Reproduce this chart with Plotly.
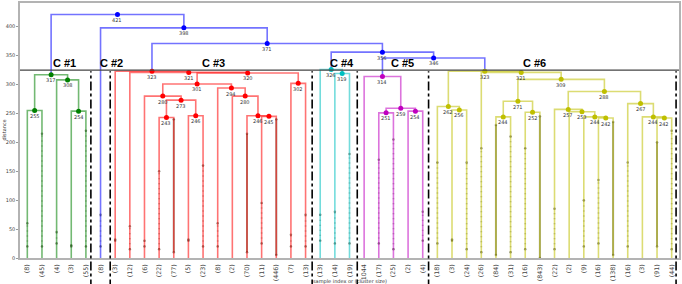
import plotly.graph_objects as go

# ---------------- data ----------------
leaf_labels = ["(8)", "(45)", "(4)", "(3)", "(55)", "(8)", "(3)", "(12)", "(6)", "(22)",
               "(77)", "(5)", "(23)", "(8)", "(2)", "(70)", "(11)", "(446)", "(7)", "(13)",
               "(13)", "(14)", "(19)", "1044", "(17)", "(25)", "(2)", "(4)", "(18)", "(3)",
               "(24)", "(26)", "(84)", "(31)", "(16)", "(843)", "(22)", "(2)", "(9)", "(16)",
               "(138)", "(16)", "(3)", "(91)", "(44)"]
leaf_counts = [8, 45, 4, 3, 55, 8, 3, 12, 6, 22, 77, 5, 23, 8, 2, 70, 11, 446, 7, 13,
               13, 14, 19, 1, 17, 25, 2, 4, 18, 3, 24, 26, 84, 31, 16, 843, 22, 2, 9, 16,
               138, 16, 3, 91, 44]
leaf_cluster = [1] * 5 + [2] + [3] * 14 + [4] * 3 + [5] * 5 + [6] * 17

# merges: node ids 0..44 are leaves, 45.. are merges in this order
merge_left = [0, 3, 2, 45,
              9, 11, 49, 8, 16, 15, 14, 13, 52, 18, 57, 7, 6,
              21, 20,
              24, 26, 64, 23,
              29, 28, 32, 34, 70, 39, 38, 37, 36, 43, 42, 41, 76, 72, 31, 69,
              67, 63, 61, 5, 48]
merge_right = [1, 4, 46, 47,
               10, 12, 50, 51, 17, 53, 54, 55, 56, 19, 58, 59, 60,
               22, 62,
               25, 27, 65, 66,
               30, 68, 33, 35, 71, 40, 73, 74, 75, 44, 77, 78, 79, 80, 81, 82,
               83, 84, 85, 86, 87]
merge_height = [255, 254, 308, 317,
                243, 246, 273, 280, 245, 246, 280, 294, 301, 302, 320, 321, 323,
                319, 326,
                251, 254, 259, 314,
                256, 262, 244, 252, 271, 242, 244, 253, 257, 242, 244, 267, 288, 309, 321, 323,
                346, 356, 371, 398, 421]

# contracted-merge dot extents along each leaf (None = no dots)
dots_low = [20, 20, 25, 20, 20, 20, 30, 15, 20, 15, 10, 30, 20, 20, None, 10, 25, 5, 20, 20,
            30, 25, 25, None, 25, 15, None, 30, 25, 30, 15, 10, 5, 10, 15, 0, 15, None, 20, 25,
            5, 20, None, 20, 15]
dots_high = [60, 215, 45, 22, 220, 75, 32, 55, 30, 150, 240, 32, 160, 60, None, 215, 95, 240, 40, 75,
             75, 80, 180, None, 170, 205, None, 80, 165, 32, 165, 190, 230, 210, 190, 245, 85, None, 100, 135,
             235, 165, None, 200, 220]

cut_height = 325
cluster_names = ["C #1", "C #2", "C #3", "C #4", "C #5", "C #6"]
cluster_label_x = [30.6, 62.2, 132, 220, 261.4, 351.4]
separator_x = [48.4, 61.6, 199.5, 230.3, 279.0, 448.0]
y_ticks = [0, 50, 100, 150, 200, 250, 300, 350, 400]

# ---------------- styling ----------------
x_max = 450
y_max = 441
base_colors = {1: "0,128,0", 2: "0,0,255", 3: "255,0,0", 4: "0,191,191", 5: "191,0,191", 6: "191,191,0"}
above_color = "0,0,255"
line_alpha = 0.55

n_leaves = len(leaf_labels)

# ---------------- layout of tree ----------------
children = {}
heights = {}
for k, (a, b, h) in enumerate(zip(merge_left, merge_right, merge_height)):
    children[n_leaves + k] = (a, b)
    heights[n_leaves + k] = h
root = n_leaves + len(merge_height) - 1

order = []


def collect(node):
    if node < n_leaves:
        order.append(node)
    else:
        collect(children[node][0])
        collect(children[node][1])


collect(root)
leaf_x = {leaf: 5 + 10 * i for i, leaf in enumerate(order)}

pos = {}
clus = {}


def place(node):
    if node < n_leaves:
        pos[node] = (leaf_x[node], 0)
        clus[node] = leaf_cluster[node]
        return
    a, b = children[node]
    place(a)
    place(b)
    pos[node] = ((pos[a][0] + pos[b][0]) / 2, heights[node])
    clus[node] = clus[a] if clus[a] == clus[b] else None


place(root)


def rgb_of(node):
    c = clus[node]
    return base_colors[c] if c is not None else above_color


fig = go.Figure()

# contracted dots
for leaf in range(n_leaves):
    lo, hi = dots_low[leaf], dots_high[leaf]
    if lo is None:
        continue
    x = leaf_x[leaf]
    dense = leaf_counts[leaf] >= 60
    fig.add_trace(go.Scatter(
        x=[x, x], y=[lo, hi], mode="lines+markers",
        line=dict(color="rgba(40,40,0,0.45)" if dense else "rgba(40,40,20,0.4)",
                  width=2 if dense else 1.7, dash="solid" if dense else "1px,4px"),
        marker=dict(size=2.5, color="rgba(40,40,20,0.5)"),
        hoverinfo="skip", showlegend=False))

# links grouped by colour
segs = {}
for node in sorted(children):
    a, b = children[node]
    xa, ha = pos[a]
    xb, hb = pos[b]
    h = heights[node]
    col = rgb_of(node)
    xs, ys = segs.setdefault(col, ([], []))
    xs += [xa, xa, xb, xb, None]
    ys += [ha, h, h, hb, None]

for col, (xs, ys) in segs.items():
    fig.add_trace(go.Scatter(x=xs, y=ys, mode="lines",
                             line=dict(color=f"rgba({col},{line_alpha})", width=1.6),
                             hoverinfo="skip", showlegend=False))

# node markers
for col in set(rgb_of(n) for n in children):
    nodes = [n for n in children if rgb_of(n) == col]
    fig.add_trace(go.Scatter(x=[pos[n][0] for n in nodes], y=[pos[n][1] for n in nodes],
                             mode="markers", marker=dict(size=5, color=f"rgb({col})"),
                             hoverinfo="skip", showlegend=False))

annotations = []
for n in children:
    annotations.append(dict(x=pos[n][0], y=pos[n][1], xref="x", yref="y",
                            text=f"{heights[n]:.0f}", showarrow=False,
                            yanchor="top", xanchor="center", yshift=-0.5,
                            font=dict(size=5, color="#333333", family="DejaVu Sans")))

for name, lx in zip(cluster_names, cluster_label_x):
    annotations.append(dict(x=lx, y=cut_height, xref="x", yref="y", text=f"<b>{name}</b>",
                            showarrow=False, yanchor="bottom", xanchor="center", yshift=-1,
                            font=dict(size=11, color="black", family="Liberation Sans")))

annotations.append(dict(x=0.5, y=0, xref="paper", yref="paper",
                        text="sample index or (cluster size)", showarrow=False,
                        yanchor="middle", yshift=-23,
                        font=dict(size=5, color="#333333", family="DejaVu Sans")))
annotations.append(dict(x=0, y=0.5, xref="paper", yref="paper", text="distance",
                        showarrow=False, textangle=-90, xanchor="center", xshift=-17,
                        font=dict(size=5, color="#333333", family="DejaVu Sans")))

shapes = [dict(type="line", xref="paper", yref="paper", x0=0, x1=1,
               y0=cut_height / y_max, y1=cut_height / y_max,
               line=dict(color="#444444", width=1.3))]
for sx in separator_x:
    shapes.append(dict(type="line", xref="paper", yref="paper", x0=sx / x_max, x1=sx / x_max,
                       y0=-0.12, y1=(cut_height - 2) / y_max,
                       line=dict(color="black", width=1.6, dash="dashdot")))

fig.update_layout(
    width=682, height=284,
    margin=dict(l=20, r=1, t=1, b=26),
    plot_bgcolor="white", paper_bgcolor="white",
    annotations=annotations, shapes=shapes,
    font=dict(family="DejaVu Sans"),
)
fig.update_xaxes(range=[0, x_max], tickvals=[leaf_x[i] for i in range(n_leaves)],
                 ticktext=leaf_labels, tickangle=-90,
                 tickfont=dict(size=6.3, color="#444444", family="DejaVu Sans"),
                 showgrid=False, zeroline=False, showline=True, linecolor="#b3b3b3",
                 linewidth=1.5, mirror=True, ticks="", ticklabelstandoff=2)
fig.update_yaxes(range=[0, y_max], tickvals=y_ticks,
                 tickfont=dict(size=5, color="#444444", family="DejaVu Sans"),
                 showgrid=False, zeroline=False, showline=True, linecolor="#b3b3b3",
                 linewidth=1.5, mirror=True, ticks="outside", ticklen=2, tickcolor="#999999")

fig.write_html("out.html", config={"displayModeBar": False},
               post_script="document.body.style.margin='0';document.body.style.padding='0';")
